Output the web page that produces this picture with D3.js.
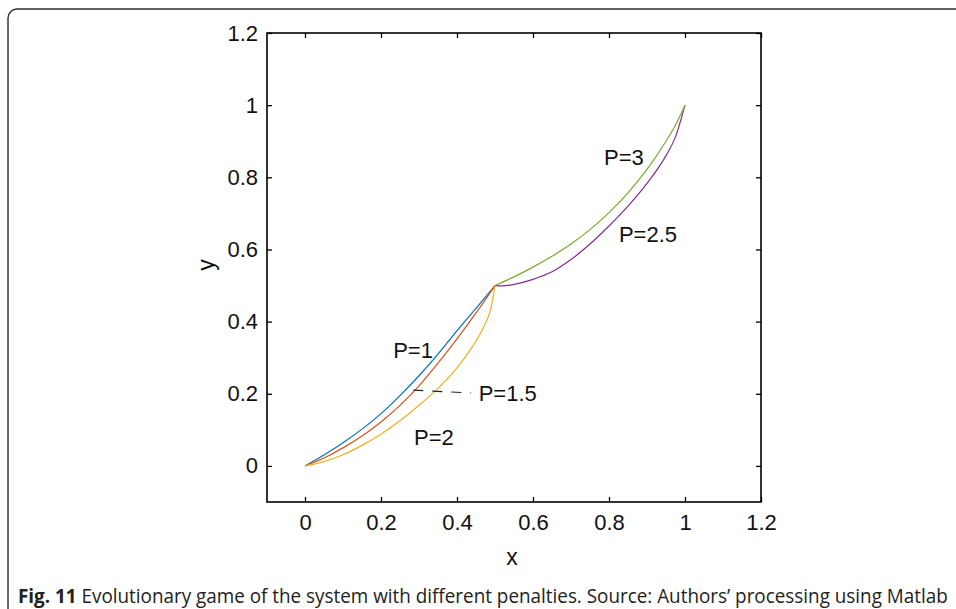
<!DOCTYPE html>
<html><head><meta charset="utf-8">
<script src="https://cdn.jsdelivr.net/npm/d3@7"></script>
<style>body{margin:0;background:#fff}svg{display:block}</style>
</head><body>
<svg id="c" width="956" height="609"></svg>
<script>
// ---- data ----
const xTicks = [0, 0.2, 0.4, 0.6, 0.8, 1, 1.2];
const yTicks = [0, 0.2, 0.4, 0.6, 0.8, 1, 1.2];
const tickLabels = ["0", "0.2", "0.4", "0.6", "0.8", "1", "1.2"];

const p1X = [0, 0.05, 0.1, 0.15, 0.2, 0.25, 0.3, 0.35, 0.4, 0.45, 0.5];
const p1Y = [0, 0.03, 0.064, 0.102, 0.145, 0.195, 0.25, 0.31, 0.375, 0.437, 0.5];

const p15X = [0, 0.05, 0.1, 0.15, 0.2, 0.25, 0.3, 0.35, 0.4, 0.45, 0.5];
const p15Y = [0, 0.022, 0.05, 0.083, 0.122, 0.168, 0.222, 0.285, 0.352, 0.424, 0.5];

const p2X = [0, 0.05, 0.1, 0.15, 0.2, 0.25, 0.3, 0.35, 0.4, 0.44, 0.47, 0.49, 0.5];
const p2Y = [0, 0.012, 0.031, 0.057, 0.088, 0.125, 0.168, 0.215, 0.272, 0.33, 0.385, 0.44, 0.5];

const p3X = [0.5, 0.55, 0.6, 0.65, 0.7, 0.75, 0.8, 0.85, 0.9, 0.95, 0.975, 1.0];
const p3Y = [0.5, 0.524, 0.551, 0.581, 0.615, 0.655, 0.702, 0.757, 0.822, 0.9, 0.945, 1.0];

const p25X = [0.5, 0.52, 0.55, 0.6, 0.65, 0.7, 0.75, 0.8, 0.85, 0.9, 0.95, 0.975, 1.0];
const p25Y = [0.5, 0.499, 0.503, 0.517, 0.538, 0.572, 0.615, 0.665, 0.72, 0.783, 0.86, 0.912, 1.0];

const seriesNames = ["P=1", "P=1.5", "P=2", "P=2.5", "P=3"];
const seriesColors = ["#0072BD", "#D95319", "#EDB120", "#7E2F8E", "#77AC30"];

// ---- drawing ----
const svg = d3.select("#c");
const x = d3.scaleLinear().domain([-0.1, 1.2]).range([267, 761]);
const y = d3.scaleLinear().domain([-0.1, 1.2]).range([502, 33]);

// card border
svg.append("rect").attr("x", 8).attr("y", 9).attr("width", 1100).attr("height", 800)
  .attr("rx", 9).attr("fill", "none").attr("stroke", "#2b2b2b").attr("stroke-width", 1.4);

const font = "Liberation Sans, Arial, sans-serif";

// axes box
const g = svg.append("g");
const tickLen = 5;
const xAxisB = d3.axisBottom(x).tickValues(xTicks).tickSize(-tickLen).tickPadding(12)
  .tickFormat((d, i) => tickLabels[i]);
const xAxisT = d3.axisTop(x).tickValues(xTicks).tickSize(-tickLen).tickFormat("");
const yAxisL = d3.axisLeft(y).tickValues(yTicks).tickSize(-tickLen).tickPadding(9)
  .tickFormat((d, i) => tickLabels[i]);
const yAxisR = d3.axisRight(y).tickValues(yTicks).tickSize(-tickLen).tickFormat("");

g.append("g").attr("transform", `translate(0,${y(-0.1)})`).call(xAxisB);
g.append("g").attr("transform", `translate(0,${y(1.2)})`).call(xAxisT);
g.append("g").attr("transform", `translate(${x(-0.1)},0)`).call(yAxisL);
g.append("g").attr("transform", `translate(${x(1.2)},0)`).call(yAxisR);
g.selectAll(".domain").remove();
g.selectAll(".tick line").attr("stroke", "#000").attr("stroke-width", 1.3);
g.selectAll(".tick text").attr("font-family", font).attr("font-size", 22).attr("fill", "#111");

// lines
const line = d3.line().x(d => x(d[0])).y(d => y(d[1])).curve(d3.curveMonotoneX);
const series = [
  [p1X, p1Y], [p15X, p15Y], [p2X, p2Y], [p25X, p25Y], [p3X, p3Y]
];
series.forEach((s, i) => {
  const pts = s[0].map((v, j) => [v, s[1][j]]);
  svg.append("path").attr("d", line(pts)).attr("fill", "none")
    .attr("stroke", seriesColors[i]).attr("stroke-width", 1.2);
});

// box frame
svg.append("rect").attr("x", x(-0.1)).attr("y", y(1.2))
  .attr("width", x(1.2) - x(-0.1)).attr("height", y(-0.1) - y(1.2))
  .attr("fill", "none").attr("stroke", "#000").attr("stroke-width", 1.6);

// annotation dashed line for P=1.5
svg.append("line").attr("x1", x(0.285)).attr("y1", y(0.21)).attr("x2", x(0.437)).attr("y2", y(0.202))
  .attr("stroke", "#222").attr("stroke-width", 1.1).attr("stroke-dasharray", "10,9");

// series labels
const labels = [
  {t: seriesNames[0], lx: 0.232, ly: 0.3},
  {t: seriesNames[1], lx: 0.457, ly: 0.18},
  {t: seriesNames[2], lx: 0.287, ly: 0.057},
  {t: seriesNames[3], lx: 0.826, ly: 0.62},
  {t: seriesNames[4], lx: 0.787, ly: 0.833}
];
labels.forEach(l => {
  svg.append("text").attr("x", x(l.lx)).attr("y", y(l.ly)).text(l.t)
    .attr("font-family", font).attr("font-size", 22).attr("fill", "#111");
});

// axis titles
svg.append("text").attr("x", 512).attr("y", 565).attr("text-anchor", "middle")
  .attr("font-family", font).attr("font-size", 23).attr("fill", "#111").text("x");
svg.append("text").attr("transform", "translate(214,265) rotate(-90)").attr("text-anchor", "middle")
  .attr("font-family", font).attr("font-size", 23).attr("fill", "#111").text("y");

// caption
const cap = svg.append("text").attr("x", 0).attr("y", 0)
  .attr("font-family", "Open Sans, Noto Sans, sans-serif").attr("font-size", 20).attr("fill", "#222");
cap.append("tspan").attr("font-weight", "bold").text("Fig. 11");
cap.append("tspan").text(" Evolutionary game of the system with different penalties. Source: Authors’ processing using Matlab");
const w = cap.node().getComputedTextLength();
const sx = 930 / w;
cap.attr("transform", `translate(18,603) scale(${sx},1)`);
</script>
</body></html>
